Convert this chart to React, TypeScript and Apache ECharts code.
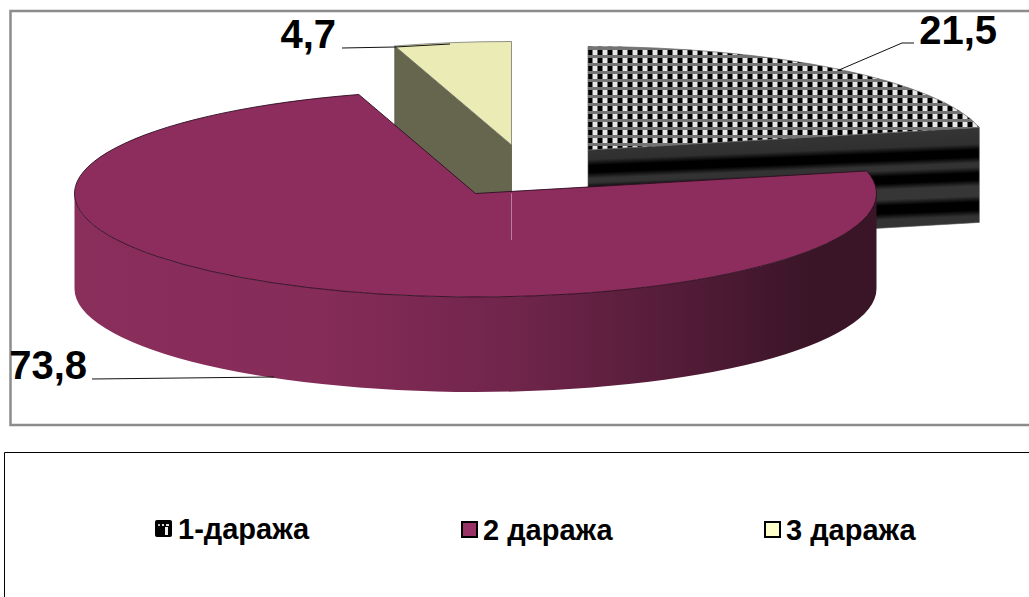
import React, { useEffect, useRef } from "react";
import * as echarts from "echarts";

// Grade shares, in percent
const categories = ["1-даража", "2 даража", "3 даража"];
const shares = [21.5, 73.8, 4.7];

const FONT = '"Liberation Sans", Arial, sans-serif';

// Shared pie geometry: projected radii of the tilted disc and the height of its side wall
const RX = 401;
const RY = 103.5;
const DEPTH = 95;

// Exploded position of each slice's apex
const apexes = [
  { x: 588, y: 150 },
  { x: 475.5, y: 193.5 },
  { x: 511.5, y: 145 },
];

// Leader lines and value label anchors, one per slice
const leaders = [
  { line: [[914, 43], [902, 43], [839, 70]], label: [997, 30] },
  { line: [[92, 379], [274, 377]], label: [87, 365] },
  { line: [[342, 48], [395, 47], [450, 44]], label: [336, 34] },
];

const drawOrder = [2, 4, 3];

const pointAt = (apex: { x: number; y: number }, deg: number, drop = 0) => {
  const r = (deg * Math.PI) / 180;
  return [apex.x + RX * Math.sin(r), apex.y - RY * Math.cos(r) + drop];
};

const sectorPath = (apex: { x: number; y: number }, from: number, to: number) => {
  const a = pointAt(apex, from);
  const b = pointAt(apex, to);
  const large = to - from > 180 ? 1 : 0;
  return `M${apex.x} ${apex.y}L${a[0]} ${a[1]}A${RX} ${RY} 0 ${large} 1 ${b[0]} ${b[1]}Z`;
};

const outerWallPath = (apex: { x: number; y: number }) => {
  const a = pointAt(apex, 90);
  const b = pointAt(apex, 270);
  const c = pointAt(apex, 270, DEPTH);
  const d = pointAt(apex, 90, DEPTH);
  return `M${a[0]} ${a[1]}A${RX} ${RY} 0 0 1 ${b[0]} ${b[1]}L${c[0]} ${c[1]}A${RX} ${RY} 0 0 0 ${d[0]} ${d[1]}Z`;
};

const cutFacePath = (apex: { x: number; y: number }, deg: number) => {
  const a = pointAt(apex, deg);
  return `M${apex.x} ${apex.y}L${a[0]} ${a[1]}L${a[0]} ${a[1] + DEPTH}L${apex.x} ${apex.y + DEPTH}Z`;
};

const dotTile = () => {
  const c = document.createElement("canvas");
  c.width = 10;
  c.height = 8;
  const g = c.getContext("2d")!;
  g.fillStyle = "#747474";
  g.fillRect(0, 0, 10, 8);
  g.fillStyle = "#000";
  g.fillRect(0, 2, 2, 5);
  g.fillRect(8, 2, 2, 5);
  g.fillStyle = "#e8e8e8";
  g.fillRect(3, 2, 4, 5);
  return c;
};

// The first grade's swatch: dark box with pale dots and a pale bar
const gradeOneIcon =
  "image://data:image/svg+xml;utf8," +
  encodeURIComponent(
    '<svg xmlns="http://www.w3.org/2000/svg" width="17" height="17">' +
      '<rect width="17" height="17" rx="2" fill="#000"/>' +
      '<rect x="3" y="4" width="2" height="2" fill="#bbb"/><rect x="7" y="4" width="2" height="2" fill="#ddd"/>' +
      '<rect x="11" y="4" width="3" height="2" fill="#ddd"/><rect x="10" y="7" width="3" height="8" fill="#eee"/>' +
      "</svg>"
  );

export default function App() {
  const ref = useRef<HTMLDivElement>(null);

  useEffect(() => {
    const chart = echarts.init(ref.current!, null, { renderer: "svg" });
    const total = shares.reduce((s, v) => s + v, 0);
    const starts = shares.map((_, i) =>
      shares.slice(0, i).reduce((s, v) => s + (v / total) * 360, 0)
    );

    const tile = dotTile();
    const stripeStops = [
      [0, "#363636"], [0.19, "#303030"], [0.25, "#000"], [0.32, "#000"], [0.38, "#333"],
      [0.42, "#333"], [0.48, "#000"], [0.55, "#000"], [0.61, "#363636"], [0.71, "#363636"],
      [0.77, "#000"], [0.85, "#000"], [0.91, "#333"], [1, "#333"],
    ].map(([offset, color]) => ({ offset: offset as number, color: color as string }));
    const stripes = new echarts.graphic.LinearGradient(900, 128, 904, 228, stripeStops, true);
    const wallShade = new echarts.graphic.LinearGradient(0, 0, 1, 0, [
      { offset: 0, color: "#8a2e5c" },
      { offset: 0.3, color: "#862c59" },
      { offset: 0.55, color: "#70254b" },
      { offset: 0.75, color: "#541c38" },
      { offset: 0.92, color: "#3a1528" },
      { offset: 1, color: "#3a1528" },
    ]);

    const topFills = [{ image: tile, repeat: "repeat", imageWidth: 10, imageHeight: 8 }, "#8d2d5d", "#ebebb6"];
    const legendFills = ["#000", "#993366", "#ffffcc"];
    const legendLefts = [155, 461, 764];

    const leaderEl = (i: number) => {
      const pts = leaders[i].line;
      return {
        type: "polyline",
        shape: { points: pts },
        style: { stroke: "#111", lineWidth: 1, fill: "none" },
      };
    };

    const series = categories.map((name, i) => ({
      type: "custom",
      name,
      coordinateSystem: "none",
      z: drawOrder[i],
      silent: true,
      itemStyle: { color: legendFills[i] },
      data: [[shares[i]]],
      renderItem: (_: unknown, api: any) => {
        const value = api.value(0) as number;
        const from = starts[i];
        const to = from + (value / total) * 360;
        const apex = apexes[i];
        const children: any[] = [];

        if (i === 0) {
          children.push({
            type: "path",
            shape: { pathData: cutFacePath(apex, to) },
            style: { fill: stripes, stroke: "#555", lineWidth: 0.6 },
          });
        }
        if (i === 1) {
          children.push({
            type: "path",
            shape: { pathData: outerWallPath(apex) },
            style: { fill: wallShade, stroke: "none" },
          });
        }
        if (i === 2) {
          children.push({
            type: "path",
            shape: { pathData: cutFacePath(apex, from) },
            style: { fill: "#66664f", stroke: "#55553f", lineWidth: 0.8 },
          });
        }
        children.push({
          type: "path",
          shape: { pathData: sectorPath(apex, from, to) },
          style: {
            fill: topFills[i],
            stroke: i === 1 ? "#2c0f20" : "#666",
            lineWidth: i === 1 ? 0.9 : 0.7,
          },
        });
        if (i === 1) {
          // Faint seam where the small slice's edge shows through the large one
          children.push({
            type: "line",
            shape: { x1: apexes[2].x, y1: apex.y, x2: apexes[2].x, y2: apexes[2].y + DEPTH },
            style: { stroke: "#b3819a", lineWidth: 1 },
          });
        }
        children.push(leaderEl(i));
        children.push({
          type: "text",
          x: leaders[i].label[0],
          y: leaders[i].label[1],
          style: {
            text: String(value).replace(".", ","),
            font: `bold 40px ${FONT}`,
            fill: "#000",
            align: "right",
            verticalAlign: "middle",
          },
        });
        return { type: "group", children };
      },
    }));

    chart.setOption({
      animation: false,
      backgroundColor: "#fff",
      legend: categories.map((name, i) => ({
        left: legendLefts[i],
        top: i === 0 ? 514 : 515,
        padding: 0,
        selectedMode: false,
        itemWidth: i === 0 ? 17 : 15,
        itemHeight: i === 0 ? 17 : 15,
        textStyle: { fontFamily: FONT, fontWeight: "bold", fontSize: 29, color: "#000", padding: [0, 0, 0, 1] },
        data: [
          {
            name,
            icon: i === 0 ? gradeOneIcon : "rect",
            itemStyle: { color: legendFills[i], borderColor: "#000", borderWidth: i === 0 ? 0 : 2 },
          },
        ],
      })),
      graphic: [
        {
          type: "rect",
          z: 0,
          silent: true,
          shape: { x: 10.5, y: 11, width: 1100, height: 414 },
          style: { fill: "none", stroke: "#8c8c8c", lineWidth: 2.5 },
        },
        {
          type: "rect",
          z: 0,
          silent: true,
          shape: { x: 4.5, y: 452.5, width: 1100, height: 300 },
          style: { fill: "none", stroke: "#000", lineWidth: 1 },
        },
      ],
      series,
    });

    return () => chart.dispose();
  }, []);

  return (
    <div
      ref={ref}
      style={{ position: "absolute", left: 0, top: 0, width: 1029, height: 597 }}
    />
  );
}
